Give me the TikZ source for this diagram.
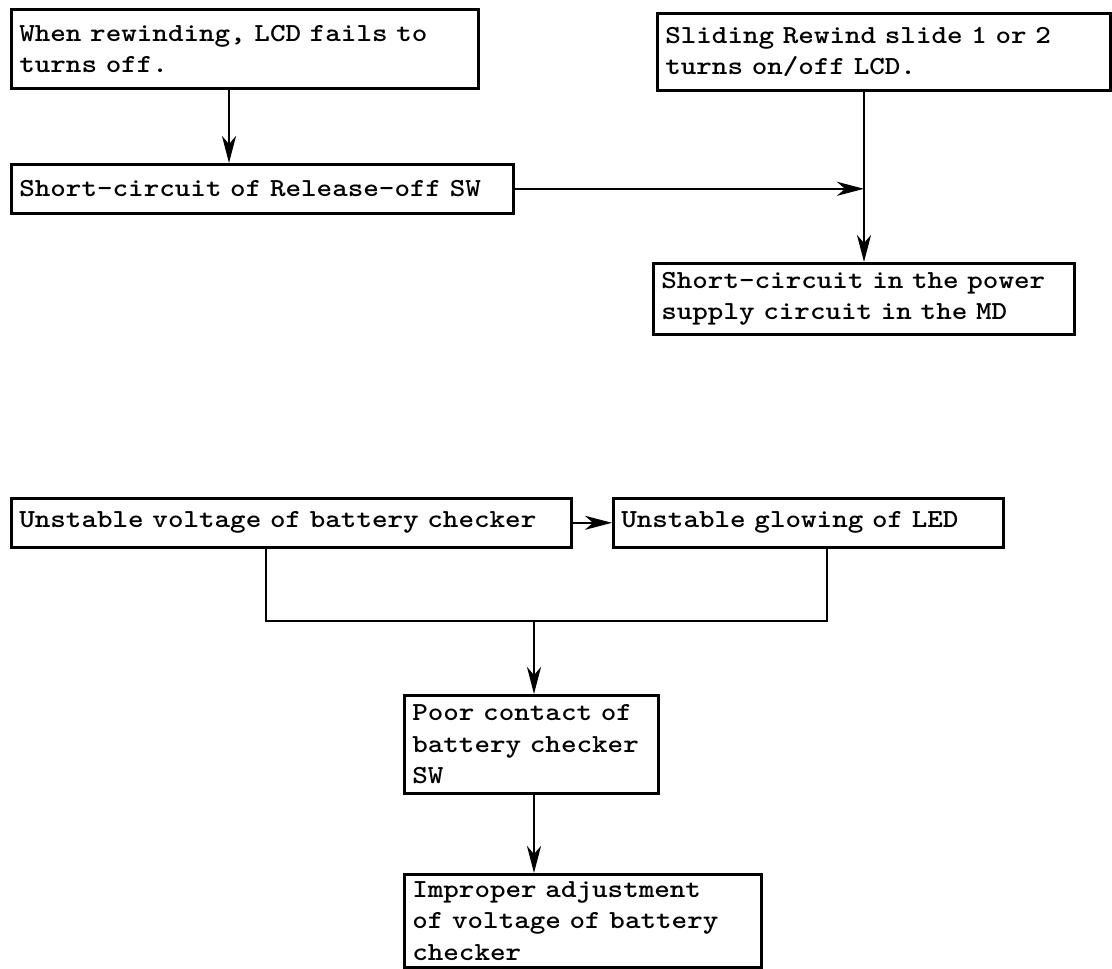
\documentclass[tikz,border=0pt]{standalone}
\usepackage{fontspec}
\newfontfamily\tw{lmmonolt10-bold.otf}[FakeStretch=1.14]
\usetikzlibrary{arrows.meta,calc}
\tikzset{
  box/.style={draw, line width=2.6pt, rectangle, anchor=north west, align=left,
    inner xsep=8pt, inner ysep=0pt,
    font=\fontsize{26}{31.5}\selectfont\tw},
  link/.style={line width=2.6pt},
  arr/.style={line width=2.6pt, -{Stealth[length=27pt,width=14pt,inset=8pt]}}
}
\begin{document}
\begin{tikzpicture}[x=1pt,y=-1pt]
\useasboundingbox (0,0) rectangle (1112,969);
\node[box, minimum width=467pt, minimum height=79pt, text width=451pt] (A) at (10,8)
  {When rewinding, LCD fails to\\turns off.};
\node[box, minimum width=502pt, minimum height=49pt, text width=486pt] (B) at (10,163)
  {Short-circuit of Release-off SW};
\node[box, minimum width=453pt, minimum height=77pt, text width=437pt] (C) at (656,12)
  {Sliding Rewind slide 1 or 2\\turns on/off LCD.};
\node[box, minimum width=421pt, minimum height=71pt, text width=405pt] (D) at (652,262)
  {Short-circuit in the power\\supply circuit in the MD};
\node[box, minimum width=560pt, minimum height=49pt, text width=544pt] (E) at (10,497)
  {Unstable voltage of battery checker};
\node[box, minimum width=390pt, minimum height=49pt, text width=374pt] (F) at (612,497)
  {Unstable glowing of LED};
\node[box, minimum width=254pt, minimum height=98pt, text width=238pt] (G) at (403,694)
  {Poor contact of\\battery checker\\SW};
\node[box, minimum width=357pt, minimum height=93pt, text width=341pt] (H) at (403,873)
  {Improper adjustment\\of voltage of battery\\checker};
\coordinate (ax) at (229,0);
\coordinate (cx) at (864,0);
\coordinate (ex) at (266,0);
\coordinate (fx) at (827,0);
\coordinate (jn) at (534,621);
\draw[arr] (A.south -| ax) -- (B.north -| ax);
\draw[arr] (B.east) -- (B.east -| cx);
\draw[arr] (C.south -| cx) -- (D.north -| cx);
\draw[arr] (E.east) -- (F.west);
\draw[link] (E.south -| ex) |- (jn) -| (F.south -| fx);
\draw[arr] (jn) -- (G.north -| jn);
\draw[arr] (G.south -| jn) -- (H.north -| jn);
\end{tikzpicture}
\end{document}
